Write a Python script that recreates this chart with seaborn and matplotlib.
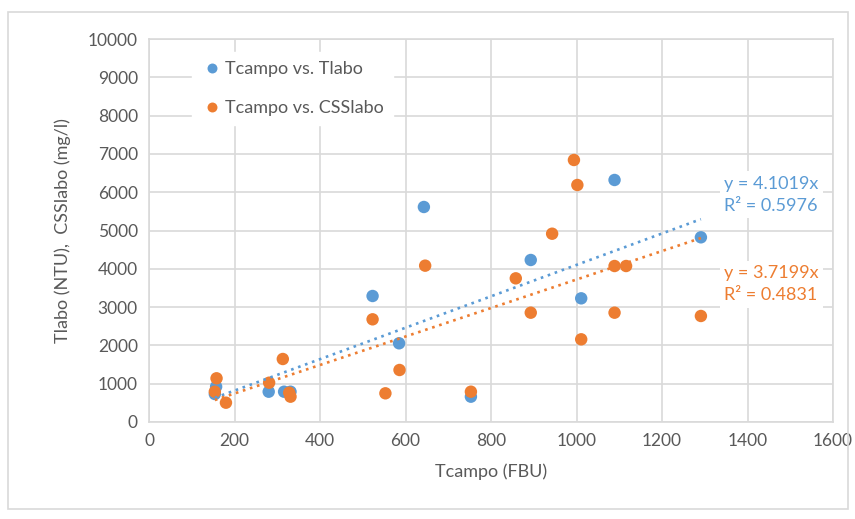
import numpy as np
import pandas as pd
import matplotlib
matplotlib.use("Agg")
import matplotlib.pyplot as plt
import seaborn as sns
from matplotlib.patches import Rectangle

# ---- data ----
tcampo_t = [154, 157, 280, 316, 331, 523, 585, 643, 753, 893, 1011, 1089, 1291]
tlabo = [731, 922, 791, 791, 791, 3290, 2055, 5614, 661, 4230, 3229, 6319, 4822]

tcampo_c = [154, 158, 180, 281, 313, 328, 331, 523, 553, 586, 646, 753, 858,
            893, 943, 994, 1002, 1011, 1089, 1089, 1116, 1291]
csslabo = [791, 1141, 504, 1026, 1645, 765, 661, 2681, 749, 1358, 4082, 791,
           3751, 2854, 4916, 6841, 6188, 2159, 4073, 2854, 4073, 2768]

series_names = ["Tcampo vs. Tlabo", "Tcampo vs. CSSlabo"]
slopes = [4.1019, 3.7199]
r2 = [0.5976, 0.4831]
x_label = "Tcampo (FBU)"
y_label = "Tlabo (NTU),  CSSlabo (mg/l)"
x_ticks = [0, 200, 400, 600, 800, 1000, 1200, 1400, 1600]
y_ticks = [0, 1000, 2000, 3000, 4000, 5000, 6000, 7000, 8000, 9000, 10000]

BLUE = "#5B9BD5"
ORANGE = "#ED7D31"
GREY_TXT = "#595959"
GRID = "#D9D9D9"

sns.set_theme(style="white")
plt.rcParams["font.family"] = ["Lato", "DejaVu Sans"]

df = pd.concat([
    pd.DataFrame({"x": tcampo_t, "y": tlabo, "s": series_names[0]}),
    pd.DataFrame({"x": tcampo_c, "y": csslabo, "s": series_names[1]}),
])

fig = plt.figure(figsize=(8.55, 5.19), dpi=100)
fig.patch.set_facecolor("white")
ax = fig.add_axes([149 / 855, 1 - 422 / 519, (833 - 149) / 855, (422 - 39) / 519])

sns.scatterplot(data=df, x="x", y="y", hue="s", palette=[BLUE, ORANGE],
                s=80, edgecolor="none", linewidth=0, ax=ax, zorder=3,
                legend=True)

# trendlines (through origin)
for xs, m, c in [(tcampo_t, slopes[0], BLUE), (tcampo_c, slopes[1], ORANGE)]:
    xr = np.array([min(xs), max(xs)], dtype=float)
    ax.plot(xr, m * xr, color=c, linestyle=(0, (1, 1.8)), linewidth=1.9,
            zorder=4, dash_capstyle="butt")

ax.set_xlim(0, 1600)
ax.set_ylim(0, 10000)
ax.set_xticks(x_ticks)
ax.set_yticks(y_ticks)
ax.grid(True, color=GRID, linewidth=1.2, zorder=0)
ax.set_axisbelow(True)
for sp in ax.spines.values():
    sp.set_color(GRID)
    sp.set_linewidth(1.2)
ax.tick_params(axis="both", length=0, labelsize=12.5, labelcolor=GREY_TXT, pad=8)
ax.set_xlabel(x_label, fontsize=13, color=GREY_TXT, labelpad=10)
ax.set_ylabel(y_label, fontsize=13, color=GREY_TXT, labelpad=12)

# legend
handles, labels = ax.get_legend_handles_labels()
leg = ax.legend(handles, labels, loc="upper left", bbox_to_anchor=(0.05, 0.99),
                frameon=True, fontsize=13, labelcolor=GREY_TXT, handletextpad=0.1,
                labelspacing=1.3, markerscale=0.8, borderpad=0.5,
                handlelength=1.2, facecolor="white", edgecolor="white",
                framealpha=1, fancybox=False)
leg.set_zorder(5)

# trendline labels
bbox = dict(facecolor="white", edgecolor="none", pad=3)
ax.text(1345, 5930, f"y = {slopes[0]:.4f}x\nR² = {r2[0]:.4f}", color=BLUE,
        fontsize=13, va="center", ha="left", linespacing=1.5, bbox=bbox, zorder=6)
ax.text(1345, 3600, f"y = {slopes[1]:.4f}x\nR² = {r2[1]:.4f}", color=ORANGE,
        fontsize=13, va="center", ha="left", linespacing=1.5, bbox=bbox, zorder=6)

# outer chart border
fig.patches.append(Rectangle((8 / 855, 1 - 509 / 519), (848 - 8) / 855, (509 - 12) / 519,
                             transform=fig.transFigure, fill=False,
                             edgecolor=GRID, linewidth=1.2))

fig.savefig("out.png", dpi=100, facecolor="white")
